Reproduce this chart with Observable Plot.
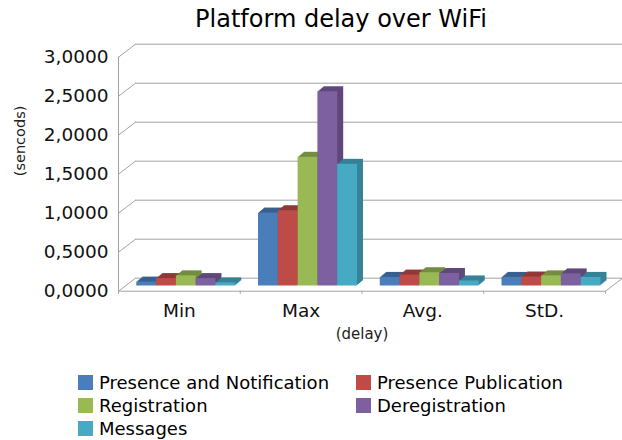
<!DOCTYPE html>
<html>
<head>
<meta charset="utf-8">
<script src="https://cdn.jsdelivr.net/npm/d3@7"></script>
<script src="https://cdn.jsdelivr.net/npm/@observablehq/plot@0.6"></script>
<style>
  html, body { margin: 0; padding: 0; background: #fff; }
  #wrap { position: relative; width: 622px; height: 440px; overflow: hidden; font-family: "DejaVu Sans", sans-serif; }
  #wrap svg { position: absolute; left: 0; top: 0; }
  #title { position: absolute; left: 30px; top: 7px; width: 622px; text-align: center; font-size: 24px; line-height: 24px; color: #000; }
  .leg { position: absolute; height: 23px; line-height: 23px; display: flex; align-items: center; font-size: 18px; color: #000; white-space: nowrap; }
  .leg span.sw { display: inline-block; width: 15px; height: 15px; margin-right: 6px; }
</style>
</head>
<body>
<div id="wrap">
  <div id="title">Platform delay over WiFi</div>
</div>
<script>
const categories = ["Min", "Max", "Avg.", "StD."];
const seriesNames = ["Presence and Notification", "Presence Publication", "Registration", "Deregistration", "Messages"];
const seriesColors = ["#4a7ebb", "#be4b48", "#98b954", "#7d60a0", "#46aac5"];
const presenceNotification = [0.05, 0.935, 0.11, 0.11];
const presencePublication = [0.095, 0.965, 0.14, 0.115];
const registration = [0.13, 1.65, 0.17, 0.13];
const deregistration = [0.095, 2.49, 0.16, 0.155];
const messages = [0.04, 1.56, 0.065, 0.11];
const yTicks = [0, 0.5, 1, 1.5, 2, 2.5, 3];
const yTickLabels = ["0,0000", "0,5000", "1,0000", "1,5000", "2,0000", "2,5000", "3,0000"];

const seriesValues = [presenceNotification, presencePublication, registration, deregistration, messages];
const data = categories.flatMap((c, ci) => seriesNames.map((s, si) => ({
  cat: c, ci, si, series: s, value: seriesValues[si][ci],
  color: seriesColors[si], dark: d3.color(seriesColors[si]).darker(0.75).formatHex()
})));

const W = 622, H = 440, ML = 118, MR = 17, MT = 56.7, MB = 149.3;
const catPx = (W - ML - MR) / 4;          // pixels per category unit
const depthX = 17 / catPx, depthY = 13 / 78;  // back-wall offset in data units
const barW = 0.1626, groupStart = -0.35;
const grid = "#a3a3a3";
const barX1 = d => d.ci + groupStart + d.si * barW;
const barX2 = d => d.ci + groupStart + (d.si + 1) * barW;

// extruded depth: several offset layers forming the top and side faces
const depthLayers = [6, 5, 4, 3, 2, 1].map(k =>
  Plot.rect(data, {x1: barX1, x2: barX2, y1: 0, y2: "value", fill: "dark", dx: k, dy: -5.2 - k * 5 / 6})
);

const chart = Plot.plot({
  width: W, height: H,
  marginLeft: ML, marginRight: MR, marginTop: MT, marginBottom: MB,
  x: {type: "linear", domain: [-0.5, 3.5], axis: null},
  y: {domain: [0, 3], axis: null},
  color: {type: "identity"},
  style: {fontFamily: "DejaVu Sans", background: "transparent", overflow: "visible"},
  marks: [
    Plot.ruleY(yTicks, {x1: -0.5, x2: 3.5, dx: 17, dy: -13, stroke: grid}),
    Plot.link(yTicks, {x1: -0.5, y1: d => d, x2: -0.5 + depthX, y2: d => d + depthY, stroke: grid}),
    Plot.ruleX([-0.5], {y1: 0, y2: 3, stroke: grid}),
    Plot.ruleY([0], {x1: -0.5, x2: 3.5, stroke: grid}),
    Plot.link([0], {x1: 3.5, y1: 0, x2: 3.5 + depthX, y2: depthY, stroke: grid}),
    Plot.ruleX([-0.5, 0.5, 1.5, 2.5, 3.5], {y1: 0, y2: -0.04, stroke: grid}),
    ...depthLayers,
    Plot.rect(data, {x1: barX1, x2: barX2, y1: 0, y2: "value", fill: "color", dy: -5.2}),
    Plot.text(yTicks, {y: d => d, text: (d, i) => yTickLabels[i], frameAnchor: "left", dx: -10, textAnchor: "end", fontSize: 18.5, fill: "#111"}),
    Plot.text(categories, {x: (d, i) => i, text: d => d, frameAnchor: "bottom", dy: 26, fontSize: 18.5, fill: "#111"}),
    Plot.text(["(delay)"], {frameAnchor: "bottom", dy: 48, fontSize: 15, fill: "#222"}),
    Plot.text(["(sencods)"], {frameAnchor: "left", dx: -98, dy: 2, rotate: -90, fontSize: 14.5, fill: "#222"})
  ]
});
const wrap = document.getElementById("wrap");
wrap.appendChild(chart);

const legPos = [[78, 382], [356, 382], [78, 405], [356, 405], [78, 428]];
seriesNames.forEach((s, i) => {
  const el = document.createElement("div");
  el.className = "leg";
  el.style.left = legPos[i][0] + "px";
  el.style.top = (legPos[i][1] - 11.5) + "px";
  const sw = document.createElement("span");
  sw.className = "sw";
  sw.style.background = seriesColors[i];
  el.appendChild(sw);
  el.appendChild(document.createTextNode(s));
  wrap.appendChild(el);
});
</script>
</body>
</html>
